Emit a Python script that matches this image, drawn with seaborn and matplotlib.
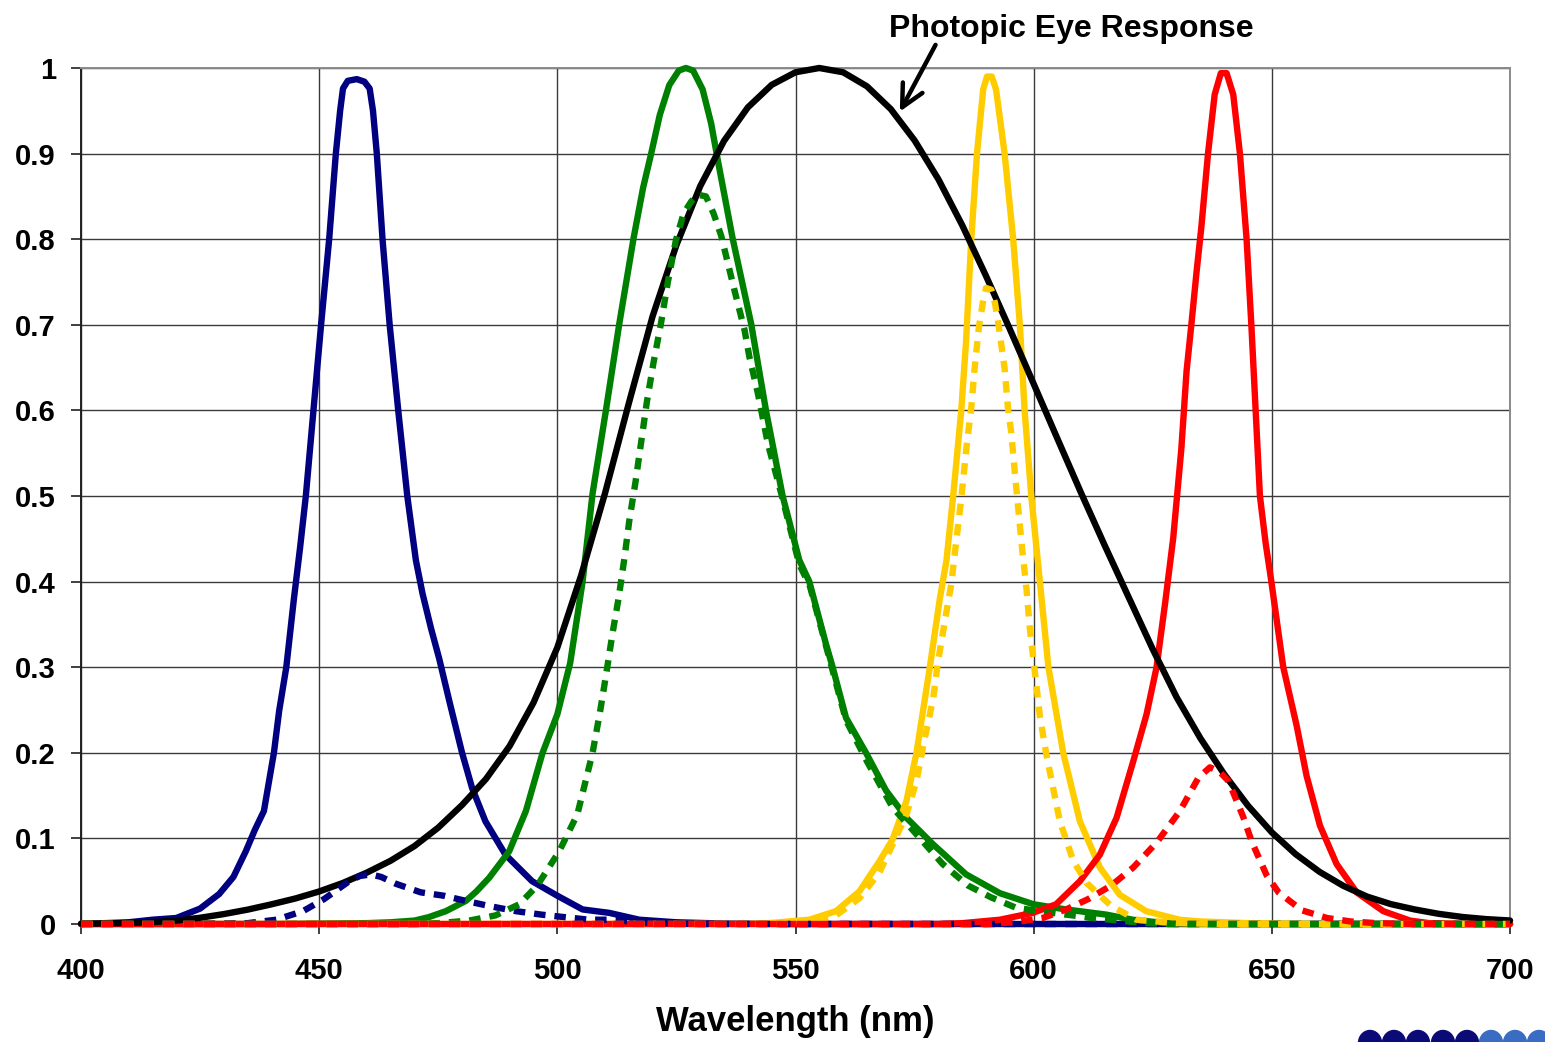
import numpy as np
import pandas as pd
import matplotlib
matplotlib.use("Agg")
import matplotlib.pyplot as plt
from matplotlib.patches import Ellipse, ArrowStyle
import seaborn as sns

# ---------------- data ----------------
wl_photopic = [400, 405, 410, 415, 420, 425, 430, 435, 440, 445, 450, 455, 460, 465, 470, 475,
               480, 485, 490, 495, 500, 505, 510, 515, 520, 525, 530, 535, 540, 545, 550, 555,
               560, 565, 570, 575, 580, 585, 590, 595, 600, 605, 610, 615, 620, 625, 630, 635,
               640, 645, 650, 655, 660, 665, 670, 675, 680, 685, 690, 695, 700]
photopic = [0.0004, 0.0006, 0.0012, 0.0022, 0.004, 0.0073, 0.0116, 0.0168, 0.023, 0.0298, 0.038,
            0.048, 0.06, 0.0739, 0.091, 0.1126, 0.139, 0.1693, 0.208, 0.2586, 0.323, 0.4073,
            0.503, 0.6082, 0.71, 0.7932, 0.862, 0.9149, 0.954, 0.9803, 0.995, 1.0, 0.995,
            0.9786, 0.952, 0.9154, 0.87, 0.8163, 0.757, 0.6949, 0.631, 0.5668, 0.503, 0.4412,
            0.381, 0.321, 0.265, 0.217, 0.175, 0.1382, 0.107, 0.0816, 0.061, 0.0446, 0.032,
            0.0232, 0.017, 0.0119, 0.0082, 0.0057, 0.0041]

wl_blue = [400, 405, 410, 415, 420, 425, 429, 432, 434.6, 436.5, 438.4, 440.5, 441.6, 443.1,
           444.7, 446, 447.2, 448.8, 450.4, 452.1, 453.5, 454.4, 455, 456, 457.9, 459.5, 460.6,
           461.3, 462.1, 463.3, 464.8, 466.6, 468.5, 470.3, 471.7, 473.5, 475.2, 477.3, 480,
           482.1, 484.9, 489.1, 494.7, 500, 505.3, 510.9, 517.2, 525, 535, 550, 700]
blue = [0.0, 0.001, 0.002, 0.005, 0.007, 0.018, 0.035, 0.055, 0.085, 0.11, 0.132, 0.2, 0.249,
        0.3, 0.38, 0.44, 0.5, 0.6, 0.7, 0.8, 0.9, 0.95, 0.976, 0.985, 0.987, 0.984, 0.976,
        0.95, 0.9, 0.8, 0.7, 0.6, 0.5, 0.425, 0.386, 0.345, 0.31, 0.261, 0.2, 0.159, 0.12,
        0.081, 0.05, 0.033, 0.017, 0.013, 0.005, 0.002, 0.0005, 0.0, 0.0]

wl_blue_eye = [400, 430, 435, 441, 446.6, 451, 456.3, 458.5, 460.8, 463, 466.1, 471.3, 476.2,
               480.8, 485.7, 491.3, 496.6, 501.5, 506.7, 511.6, 515, 520, 530, 700]
blue_eye = [0.0, 0.0005, 0.001, 0.005, 0.015, 0.029, 0.05, 0.056, 0.058, 0.055, 0.047, 0.037,
            0.033, 0.027, 0.021, 0.015, 0.011, 0.008, 0.005, 0.005, 0.003, 0.001, 0.0, 0.0]

wl_green = [400, 440, 460, 465, 470, 473, 476.6, 480.8, 483, 485.7, 489.9, 493.4, 496.9, 500,
            502.7, 505.3, 507.4, 510.2, 513, 516, 518, 519.7, 521.5, 523.5, 525.5, 527, 528.5,
            530.5, 532.3, 533.7, 536.8, 540.7, 543.8, 547.3, 550.8, 552.9, 556.4, 557.8, 560.6,
            564.8, 569, 573.3, 578.9, 585.8, 592.9, 600, 606.8, 615.2, 620.8, 627.8, 640, 700]
green = [0.0, 0.0, 0.001, 0.002, 0.004, 0.008, 0.015, 0.027, 0.038, 0.054, 0.085, 0.132, 0.2,
         0.245, 0.305, 0.4, 0.503, 0.6, 0.701, 0.801, 0.86, 0.9, 0.945, 0.98, 0.997, 1.0, 0.997,
         0.975, 0.935, 0.892, 0.801, 0.701, 0.6, 0.5, 0.425, 0.4, 0.327, 0.3, 0.241, 0.2,
         0.156, 0.124, 0.093, 0.058, 0.036, 0.023, 0.017, 0.011, 0.005, 0.001, 0.0, 0.0]

wl_green_eye = [400, 470, 475, 481.5, 487, 492, 495.8, 500.4, 504.2, 507.4, 509, 510.2, 511.6,
                512.9, 514.1, 515.1, 516.4, 517.6, 518.8, 520.2, 521.8, 523.2, 524.9, 526.5,
                528.1, 529.5, 531.2, 532.8, 534.4, 537.2, 539.3, 540.3, 542.1, 544.2, 547,
                550.8, 553, 556.4, 560.6, 565, 570.4, 576, 580.9, 586.2, 591.1, 596.3, 601.2,
                606.8, 612.4, 618, 623.6, 630, 700]
green_eye = [0.0, 0.0, 0.001, 0.004, 0.01, 0.023, 0.045, 0.085, 0.128, 0.2, 0.249, 0.29, 0.34,
             0.382, 0.428, 0.471, 0.516, 0.563, 0.61, 0.656, 0.703, 0.75, 0.799, 0.83, 0.844,
             0.852, 0.85, 0.83, 0.804, 0.74, 0.694, 0.663, 0.62, 0.561, 0.503, 0.42, 0.395,
             0.325, 0.238, 0.19, 0.136, 0.101, 0.07, 0.045, 0.031, 0.019, 0.015, 0.011, 0.007,
             0.004, 0.001, 0.0, 0.0]

wl_yellow = [400, 540, 544.5, 552.9, 558.5, 563.4, 567.6, 570.4, 573.3, 575.4, 578.2, 580.3,
             581.7, 583.1, 584.8, 585.8, 586.9, 588.1, 589.4, 590.2, 591.2, 592.1, 593.9, 595.7,
             597.1, 598.1, 599.5, 601.3, 603.1, 606.2, 609.7, 613.9, 618.1, 623.6, 630.6, 634.8,
             645, 660, 700]
yellow = [0.0, 0.0, 0.001, 0.005, 0.015, 0.038, 0.073, 0.099, 0.144, 0.2, 0.3, 0.38, 0.425,
          0.5, 0.6, 0.68, 0.8, 0.9, 0.975, 0.99, 0.99, 0.975, 0.9, 0.8, 0.7, 0.6, 0.5, 0.4, 0.3,
          0.2, 0.12, 0.066, 0.034, 0.015, 0.005, 0.003, 0.001, 0.0, 0.0]

wl_yellow_eye = [400, 545, 553, 558.5, 563.4, 567.6, 570.4, 573.3, 575.4, 577.1, 578.9, 579.9,
                 581.3, 582.7, 583.7, 584.8, 585.9, 586.9, 587.6, 588.5, 589.3, 590, 591.1,
                 591.9, 592.7, 593.9, 594.6, 595.3, 596, 596.8, 597.6, 598.5, 599.2, 600.3,
                 601.3, 602.7, 604.4, 605.5, 608.3, 611.1, 616.3, 621.6, 630, 640, 700]
yellow_eye = [0.0, 0.0, 0.003, 0.01, 0.03, 0.06, 0.093, 0.128, 0.167, 0.216, 0.263, 0.306,
              0.352, 0.397, 0.445, 0.497, 0.557, 0.603, 0.649, 0.697, 0.725, 0.743, 0.741,
              0.725, 0.697, 0.649, 0.603, 0.574, 0.53, 0.483, 0.437, 0.391, 0.345, 0.292,
              0.243, 0.197, 0.15, 0.12, 0.074, 0.048, 0.021, 0.005, 0.001, 0.0, 0.0]

wl_red = [400, 580, 585.1, 592.9, 599.8, 604.7, 609.7, 613.9, 617.4, 620.9, 623.7, 625.8, 627.6,
          629.3, 631, 632.1, 633.1, 634.2, 635.2, 636.6, 638, 639.3, 640.5, 641.9, 643.3, 644.7,
          645.7, 646.6, 647.5, 648.7, 649.9, 652.4, 655.2, 657.3, 660.1, 663.6, 667.8, 673.4,
          679, 683, 690, 700]
red = [0.0, 0.0, 0.001, 0.005, 0.013, 0.023, 0.05, 0.081, 0.124, 0.19, 0.245, 0.3, 0.375,
       0.451, 0.555, 0.646, 0.7, 0.762, 0.814, 0.9, 0.969, 0.994, 0.994, 0.969, 0.9, 0.8, 0.7,
       0.6, 0.5, 0.445, 0.4, 0.3, 0.232, 0.173, 0.115, 0.07, 0.037, 0.015, 0.004, 0.001, 0.0,
       0.0]

wl_red_eye = [400, 590, 596, 601.9, 606.8, 611.4, 616.3, 620.9, 625.8, 630.7, 634.6, 637, 639,
              640.9, 644, 645.8, 648.9, 651.4, 656.3, 661.6, 666.5, 672, 680, 700]
red_eye = [0.0, 0.0, 0.002, 0.007, 0.017, 0.029, 0.045, 0.066, 0.095, 0.132, 0.171, 0.183,
           0.178, 0.167, 0.125, 0.096, 0.057, 0.037, 0.016, 0.007, 0.003, 0.001, 0.0, 0.0]

x_ticks = [400, 450, 500, 550, 600, 650, 700]
y_ticks = [0, 0.1, 0.2, 0.3, 0.4, 0.5, 0.6, 0.7, 0.8, 0.9, 1.0]
y_tick_labels = ["0", "0.1", "0.2", "0.3", "0.4", "0.5", "0.6", "0.7", "0.8", "0.9", "1"]
x_label = "Wavelength (nm)"
annotation = "Photopic Eye Response"

# ---------------- style ----------------
sns.set_style("white")
plt.rcParams["font.family"] = ["Liberation Sans", "DejaVu Sans"]
plt.rcParams["text.color"] = "black"
plt.rcParams["axes.labelcolor"] = "black"
plt.rcParams["xtick.color"] = "black"
plt.rcParams["ytick.color"] = "black"

W, H = 1545, 1042
fig = plt.figure(figsize=(W / 100, H / 100), dpi=100)
ax = fig.add_axes([81 / W, 1 - 924 / H, (1510 - 81) / W, (924 - 68) / H])

NAVY, GREEN, YELLOW, RED = "#000080", "#008000", "#FFCC00", "#FF0000"
LW = 4.6
DASH = (0, (1.8, 1.4))

series = [
    (wl_blue, blue, NAVY, "-", 3),
    (wl_green, green, GREEN, "-", 3),
    (wl_yellow, yellow, YELLOW, "-", 3),
    (wl_red, red, RED, "-", 3),
    (wl_photopic, photopic, "black", "-", 4),
    (wl_blue_eye, blue_eye, NAVY, DASH, 5),
    (wl_green_eye, green_eye, GREEN, DASH, 5),
    (wl_yellow_eye, yellow_eye, YELLOW, DASH, 5),
    (wl_red_eye, red_eye, RED, DASH, 6),
]
for xs, ys, col, ls, z in series:
    df = pd.DataFrame({"wl": xs, "v": ys})
    sns.lineplot(data=df, x="wl", y="v", ax=ax, color=col, linewidth=LW,
                 linestyle=ls, estimator=None, zorder=z, clip_on=False,
                 dash_capstyle="butt", solid_capstyle="round",
                 solid_joinstyle="round", legend=False)

ax.set_xlim(400, 700)
ax.set_ylim(0, 1)
ax.set_xticks(x_ticks)
ax.set_yticks(y_ticks)
ax.set_yticklabels(y_tick_labels)
ax.grid(True, color="#3a3a3a", linewidth=1.0)
ax.set_axisbelow(True)

for s in ["left", "bottom"]:
    ax.spines[s].set_color("#202020")
    ax.spines[s].set_linewidth(1.4)
for s in ["top", "right"]:
    ax.spines[s].set_color("#8a8a8a")
    ax.spines[s].set_linewidth(1.4)

ax.tick_params(axis="y", which="major", left=True, length=7, width=1.2, color="#202020",
               pad=11, labelsize=21, labelcolor="black")
ax.tick_params(axis="x", which="major", bottom=True, length=7, width=1.2, color="#202020",
               pad=17, labelsize=21, labelcolor="black")
for lab in ax.get_xticklabels() + ax.get_yticklabels():
    lab.set_fontweight("bold")

ax.set_xlabel(x_label, fontsize=25, fontweight="bold", va="center", color="black")
ax.xaxis.set_label_coords(0.5, (924 - 1022) / 856)
ax.set_ylabel("")

# annotation
ax.annotate("", xy=(571.9, 0.949), xytext=(579.4, 1.027),
            arrowprops=dict(arrowstyle=ArrowStyle("->", head_length=0.8, head_width=0.4),
                            mutation_scale=20, lw=3.2, color="black",
                            shrinkA=0, shrinkB=0),
            annotation_clip=False)
ax.text(608.0, 1.036, annotation, ha="center", va="baseline", fontsize=23,
        fontweight="bold", clip_on=False, color="black")

# logo fragment at bottom right
logo_x = [1370, 1394, 1418, 1443, 1467, 1491, 1515, 1539]
logo_c = ["#0b0b78"] * 5 + ["#3a6cc4"] * 3
for cx, cc in zip(logo_x, logo_c):
    fig.patches.append(Ellipse((cx / W, 1 - 1043 / H), 23 / W, 25 / H,
                               transform=fig.transFigure, color=cc))

fig.savefig("out.png", dpi=100)
